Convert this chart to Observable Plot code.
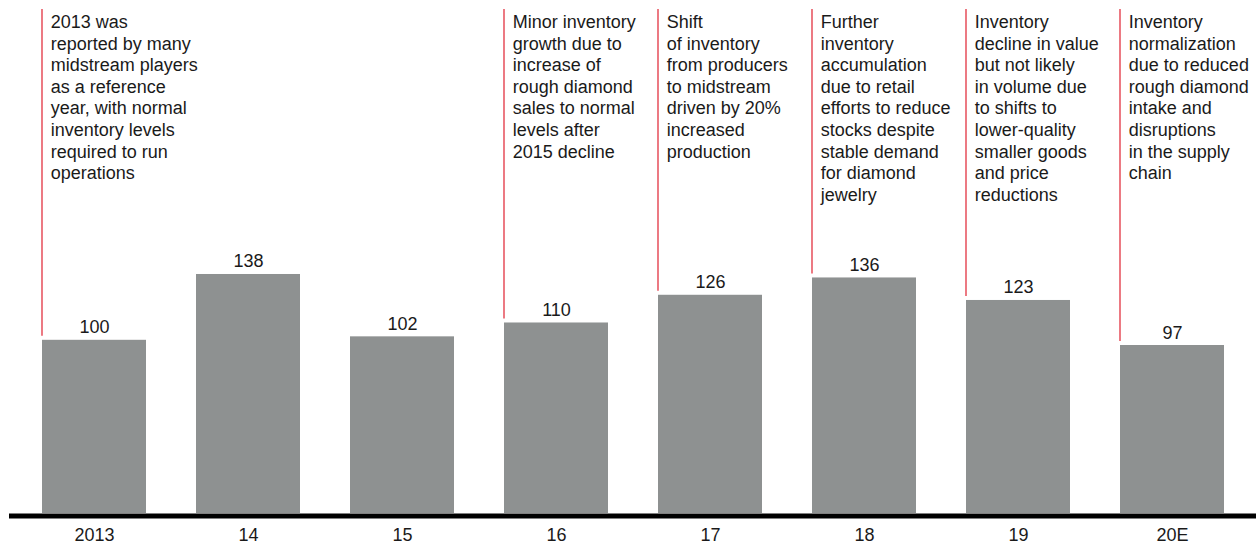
<!DOCTYPE html>
<html>
<head>
<meta charset="utf-8">
<script src="https://cdn.jsdelivr.net/npm/d3@7"></script>
<script src="https://cdn.jsdelivr.net/npm/@observablehq/plot@0.6"></script>
<style>
  html, body { margin: 0; padding: 0; background: #fff; }
  #chart svg { display: block; }
</style>
</head>
<body>
<div id="chart"></div>
<script>
const categories = ["2013", "14", "15", "16", "17", "18", "19", "20E"];
const values = [100, 138, 102, 110, 126, 136, 123, 97];
const notes = [
  "2013 was\nreported by many\nmidstream players\nas a reference\nyear, with normal\ninventory levels\nrequired to run\noperations",
  "",
  "",
  "Minor inventory\ngrowth due to\nincrease of\nrough diamond\nsales to normal\nlevels after\n2015 decline",
  "Shift\nof inventory\nfrom producers\nto midstream\ndriven by 20%\nincreased\nproduction",
  "Further\ninventory\naccumulation\ndue to retail\nefforts to reduce\nstocks despite\nstable demand\nfor diamond\njewelry",
  "Inventory\ndecline in value\nbut not likely\nin volume due\nto shifts to\nlower-quality\nsmaller goods\nand price\nreductions",
  "Inventory\nnormalization\ndue to reduced\nrough diamond\nintake and\ndisruptions\nin the supply\nchain"
];

const data = categories.map((c, i) => ({cat: c, value: values[i], note: notes[i]}));
const annotated = data.filter(d => d.note);
const yMax = 291;
const font = "'Liberation Sans', Arial, Helvetica, sans-serif";
const fs = 18;

const plot = Plot.plot({
  width: 1260,
  height: 546,
  marginTop: 9,
  marginBottom: 33,
  marginLeft: 9,
  marginRight: 4,
  style: {fontFamily: font, fontSize: fs + "px", color: "#1a1a1a", background: "#fff"},
  x: {domain: categories, range: [14.7, 1251.3], paddingInner: 0.327, paddingOuter: 0.1635, align: 0.5, label: null},
  y: {domain: [0, yMax], axis: null},
  marks: [
    Plot.barY(data, {x: "cat", y: "value", fill: "#8e9191"}),
    Plot.ruleX(annotated, {x: "cat", y1: yMax, y2: "value", dx: -52.5, stroke: "#e0202f", strokeWidth: 1.2, insetBottom: 4}),
    Plot.text(annotated, {x: "cat", frameAnchor: "top", text: "note", textAnchor: "start", lineAnchor: "top", dx: -43.7, dy: 3.2, lineHeight: 1.2, fontSize: fs, fill: "#1a1a1a"}),
    Plot.text(data, {x: "cat", y: "value", text: d => String(d.value), lineAnchor: "bottom", dy: -7, fontSize: fs, fill: "#1a1a1a"}),
    Plot.ruleY([0], {stroke: "#000", strokeWidth: 5, dy: 2.5}),
    Plot.axisX({tickSize: 0, tickPadding: 14.5, fontSize: fs, label: null, color: "#1a1a1a"})
  ]
});
document.getElementById("chart").appendChild(plot);
</script>
</body>
</html>
